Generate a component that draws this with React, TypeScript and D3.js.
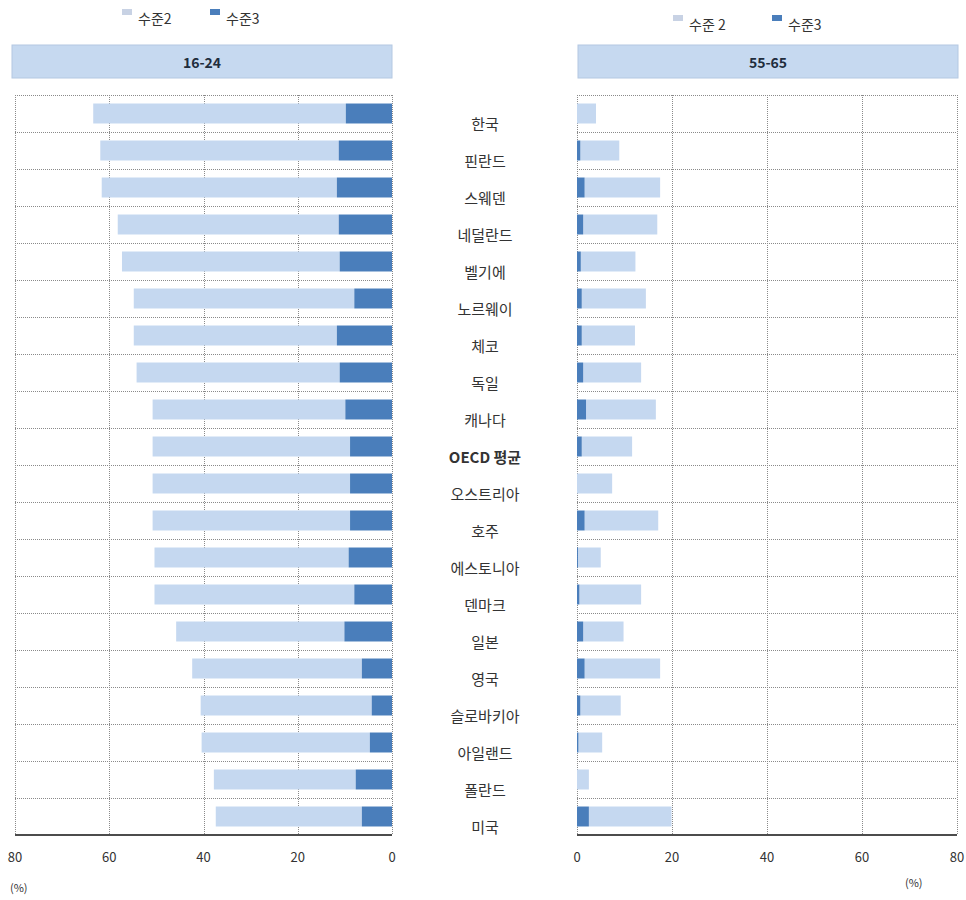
import React, { useEffect, useRef } from "react";
import * as d3 from "d3";

const countries = [
  "한국", "핀란드", "스웨덴", "네덜란드", "벨기에", "노르웨이", "체코", "독일", "캐나다", "OECD 평균",
  "오스트리아", "호주", "에스토니아", "덴마크", "일본", "영국", "슬로바키아", "아일랜드", "폴란드", "미국",
];

// 16-24 age group
const young2 = [53.6, 50.6, 49.9, 46.9, 46.2, 46.8, 43.1, 43.1, 40.9, 41.9, 41.9, 41.9, 41.2, 42.4, 35.7, 36.0, 36.3, 35.7, 30.1, 31.0];
const young3 = [9.8, 11.3, 11.7, 11.3, 11.1, 8.0, 11.7, 11.1, 9.9, 8.9, 8.9, 8.9, 9.2, 8.0, 10.1, 6.4, 4.3, 4.7, 7.7, 6.4];

// 55-65 age group
const old2 = [4.0, 8.2, 15.9, 15.6, 11.5, 13.5, 11.2, 12.2, 14.7, 10.6, 7.4, 15.5, 4.8, 13.0, 8.5, 15.9, 8.5, 5.0, 2.5, 17.4];
const old3 = [0, 0.7, 1.6, 1.3, 0.8, 1.0, 1.0, 1.3, 1.9, 1.0, 0, 1.6, 0.2, 0.5, 1.3, 1.6, 0.7, 0.3, 0, 2.5];

const ticks = [0, 20, 40, 60, 80];

const LIGHT = "#c5d8f0";
const DARK = "#4a7ebb";
const FONT = "'Noto Sans CJK KR', 'Noto Sans', sans-serif";

export default function App() {
  const ref = useRef<SVGSVGElement>(null);

  useEffect(() => {
    const svg = d3.select(ref.current);
    svg.selectAll("*").remove();

    const top = 95;
    const bottom = 835;

    const y = d3
      .scaleBand<string>()
      .domain(countries)
      .range([top, bottom])
      .paddingInner(0.46)
      .paddingOuter(0.23);
    const step = y.step();

    const panels = [
      { x: d3.scaleLinear().domain([0, 80]).range([392, 15]), s2: young2, s3: young3, title: "16-24", box: [12, 392], leg: { x: 122, y: 9, gap: 88, l2: "수준2" }, pct: [10, 892] },
      { x: d3.scaleLinear().domain([0, 80]).range([577, 957]), s2: old2, s3: old3, title: "55-65", box: [578, 958], leg: { x: 673, y: 15, gap: 99, l2: "수준 2" }, pct: [905, 887] },
    ];

    panels.forEach((p) => {
      const g = svg.append("g");
      const [x0, x1] = d3.extent(p.x.range()) as [number, number];

      // header
      g.append("rect")
        .attr("x", p.box[0]).attr("y", 45)
        .attr("width", p.box[1] - p.box[0]).attr("height", 33)
        .attr("fill", "#c6d9f0").attr("stroke", "#b4c8e2");
      g.append("text")
        .attr("x", (p.box[0] + p.box[1]) / 2).attr("y", 62)
        .attr("text-anchor", "middle").attr("dominant-baseline", "central")
        .attr("font-size", 14).attr("font-weight", "bold").attr("fill", "#1f2d3d")
        .style("font-family", FONT)
        .text(p.title);

      // legend
      const leg = [
        { c: "#c8d2e4", t: p.leg.l2 },
        { c: DARK, t: "수준3" },
      ];
      leg.forEach((l, i) => {
        const lx = p.leg.x + i * p.leg.gap;
        g.append("rect").attr("x", lx).attr("y", p.leg.y).attr("width", 10).attr("height", 6).attr("fill", l.c);
        g.append("text")
          .attr("x", lx + 16).attr("y", p.leg.y + 15)
          .attr("font-size", 14).attr("fill", "#333")
          .style("font-family", FONT)
          .text(l.t);
      });

      // horizontal grid
      d3.range(countries.length).forEach((i) => {
        g.append("line")
          .attr("x1", x0).attr("x2", x1)
          .attr("y1", top + i * step + 0.5).attr("y2", top + i * step + 0.5)
          .attr("stroke", "#8a8a8a").attr("stroke-dasharray", "1,1");
      });
      // vertical grid
      ticks.forEach((t) => {
        g.append("line")
          .attr("x1", Math.round(p.x(t)) + 0.5).attr("x2", Math.round(p.x(t)) + 0.5)
          .attr("y1", top).attr("y2", bottom)
          .attr("stroke", "#8a8a8a").attr("stroke-dasharray", "1,1");
      });

      // bars
      countries.forEach((c, i) => {
        const v3 = p.s3[i];
        const v2 = p.s2[i];
        g.append("rect")
          .attr("x", Math.min(p.x(v3), p.x(v3 + v2)))
          .attr("width", Math.abs(p.x(v3 + v2) - p.x(v3)))
          .attr("y", y(c)!).attr("height", y.bandwidth())
          .attr("fill", LIGHT);
        g.append("rect")
          .attr("x", Math.min(p.x(0), p.x(v3)))
          .attr("width", Math.abs(p.x(v3) - p.x(0)))
          .attr("y", y(c)!).attr("height", y.bandwidth())
          .attr("fill", DARK);
      });

      // axis
      g.append("line")
        .attr("x1", x0).attr("x2", x1)
        .attr("y1", bottom).attr("y2", bottom)
        .attr("stroke", "#111").attr("stroke-width", 1.5);
      ticks.forEach((t) => {
        g.append("text")
          .attr("x", p.x(t)).attr("y", 856)
          .attr("text-anchor", "middle").attr("dominant-baseline", "central")
          .attr("font-size", 13).attr("fill", "#333")
          .style("font-family", FONT)
          .text(t);
      });
      g.append("text")
        .attr("x", p.pct[0]).attr("y", p.pct[1])
        .attr("font-size", 11).attr("fill", "#333")
        .style("font-family", FONT)
        .text("(%)");
    });

    // category labels
    svg.append("g")
      .selectAll("text")
      .data(countries)
      .join("text")
      .attr("x", 485)
      .attr("y", (d) => y(d)! + y.bandwidth() / 2 + 10)
      .attr("text-anchor", "middle").attr("dominant-baseline", "central")
      .attr("font-size", 15).attr("fill", "#333")
      .attr("font-weight", (d) => (d === "OECD 평균" ? "bold" : "normal"))
      .style("font-family", FONT)
      .text((d) => d);
  }, []);

  return (
    <svg
      ref={ref}
      width={966}
      height={900}
      style={{ position: "absolute", left: 0, top: 0, background: "#fff" }}
    />
  );
}
